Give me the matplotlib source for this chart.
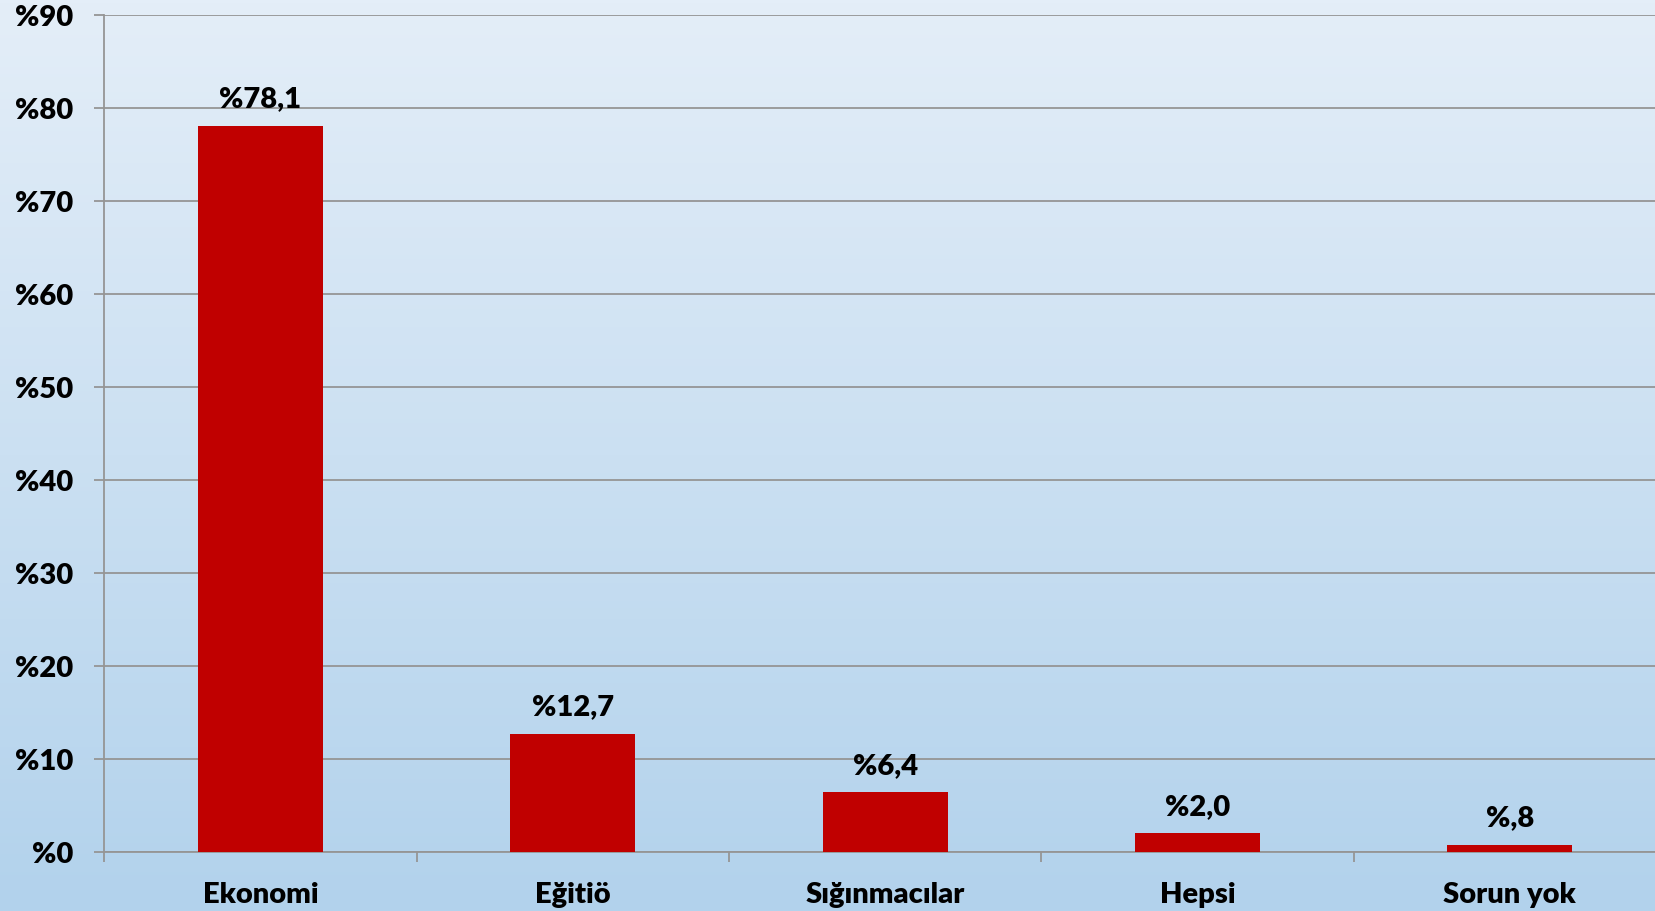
import numpy as np
import matplotlib
matplotlib.use("Agg")
import matplotlib.pyplot as plt
from matplotlib.colors import LinearSegmentedColormap

categories = ["Ekonomi", "Eğitiö", "Sığınmacılar", "Hepsi", "Sorun yok"]
values = [78.1, 12.7, 6.4, 2.0, 0.8]
value_labels = ["%78,1", "%12,7", "%6,4", "%2,0", "%,8"]
yticks = list(range(0, 100, 10))
ytick_labels = ["%" + str(t) for t in yticks]

plt.rcParams["font.family"] = ["Lato", "DejaVu Sans"]
W = "heavy"
FS = 21

fig = plt.figure(figsize=(16.55, 9.12), dpi=100)

# background gradient over the whole figure
bg = fig.add_axes([0, 0, 1, 1], zorder=-10)
cmap = LinearSegmentedColormap.from_list("bg", ["#E4EEF8", "#B2D2EC"])
bg.imshow(np.linspace(0, 1, 256).reshape(-1, 1), aspect="auto", cmap=cmap,
          extent=[0, 1, 0, 1])
bg.axis("off")

ax = fig.add_axes([0.063, 0.0647, 0.9436, 0.9178])
ax.patch.set_alpha(0)

x = np.arange(len(categories))
ax.bar(x, values, width=0.4, color="#C00000", zorder=3)

for xi, v, lab in zip(x, values, value_labels):
    ax.annotate(lab, (xi, v), xytext=(0, 14), textcoords="offset points",
                ha="center", va="baseline", fontsize=FS, fontweight=W)

ax.set_xlim(-0.5, len(categories) - 0.5)
ax.set_ylim(0, 90)
ax.set_yticks(yticks)
ax.set_yticklabels(ytick_labels, fontsize=FS, fontweight=W)
ax.yaxis.grid(True, color="#959595", linewidth=1.3, zorder=0)
ax.tick_params(axis="y", length=7.2, color="#959595", width=1.3, pad=15)

ax.set_xticks(np.arange(-0.5, len(categories) + 0.5, 1), minor=False)
ax.set_xticklabels([])
ax.set_xticks(x, minor=True)
ax.set_xticklabels(categories, minor=True, fontsize=FS, fontweight=W)
ax.tick_params(axis="x", which="major", length=7.2, color="#959595", width=1.3)
ax.tick_params(axis="x", which="minor", length=0, pad=21)

for s in ["top", "right"]:
    ax.spines[s].set_visible(False)
ax.spines["left"].set_color("#959595")
ax.spines["bottom"].set_color("#959595")
ax.spines["left"].set_linewidth(1.3)
ax.spines["bottom"].set_linewidth(1.3)

fig.savefig("out.png", dpi=100)
